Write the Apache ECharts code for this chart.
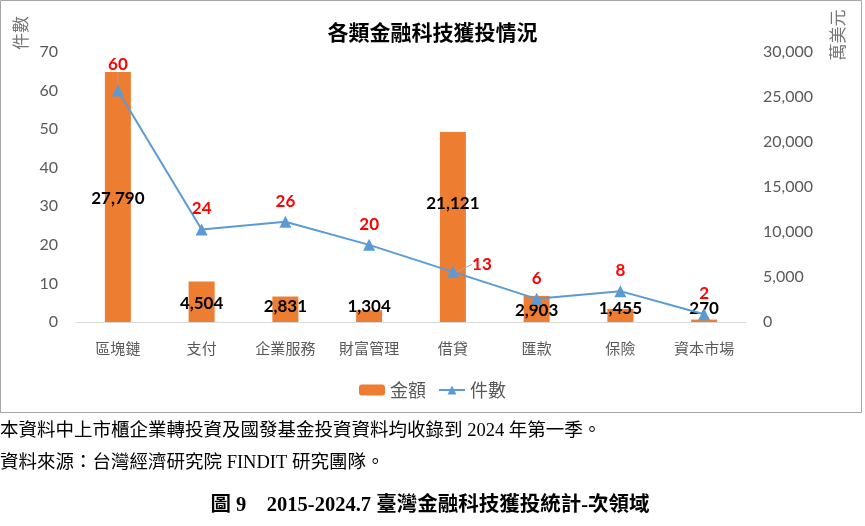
<!DOCTYPE html>
<html>
<head>
<meta charset="utf-8">
<script src="https://cdn.jsdelivr.net/npm/echarts@6/dist/echarts.min.js"></script>
<style>
html,body{margin:0;padding:0;background:#fff;}
#c{width:865px;height:526px;}
</style>
</head>
<body>
<div id="c"></div>
<script>
const categories = ['區塊鏈','支付','企業服務','財富管理','借貸','匯款','保險','資本市場'];
const amounts = [27790, 4504, 2831, 1304, 21121, 2903, 1455, 270];
const counts = [60, 24, 26, 20, 13, 6, 8, 2];
const leftTicks = {min: 0, max: 70, interval: 10};
const rightTicks = {min: 0, max: 30000, interval: 5000};

// label placement (styling only)
const barLabelDist = [115, 10, 7, 7, 110, 3, 5, 5];

const CJK = '"Noto Sans CJK TC", "Noto Sans CJK SC", sans-serif';
const NUM = 'Lato, "Open Sans", "Noto Sans CJK TC", sans-serif';
const SERIF = '"Liberation Serif", "Noto Sans CJK TC", serif';

const chart = echarts.init(document.getElementById('c'), null, {renderer: 'canvas'});

chart.setOption({
  backgroundColor: '#fff',
  animation: false,
  title: {
    text: '各類金融科技獲投情況',
    left: 'center', top: 17,
    textStyle: {fontFamily: CJK, fontSize: 21, fontWeight: 'bold', color: '#000'}
  },
  legend: {
    top: 376, left: 'center',
    itemWidth: 26, itemHeight: 11, itemGap: 12,
    textStyle: {fontFamily: CJK, fontSize: 18, color: '#595959'},
    data: ['金額', '件數']
  },
  grid: {left: 76, right: 119, top: 52, bottom: 204, containLabel: false},
  xAxis: {
    type: 'category', data: categories,
    axisLine: {lineStyle: {color: '#d9d9d9', width: 1}},
    axisTick: {show: false},
    axisLabel: {fontFamily: CJK, fontSize: 15, color: '#595959', margin: 19}
  },
  yAxis: [
    {type: 'value', position: 'left', min: leftTicks.min, max: leftTicks.max, interval: leftTicks.interval,
     splitLine: {show: false}, axisLine: {show: false}, axisTick: {show: false},
     axisLabel: {fontFamily: NUM, fontSize: 16, color: '#595959', margin: 18}},
    {type: 'value', position: 'right', min: rightTicks.min, max: rightTicks.max, interval: rightTicks.interval,
     splitLine: {show: false}, axisLine: {show: false}, axisTick: {show: false},
     axisLabel: {fontFamily: NUM, fontSize: 16, color: '#595959', margin: 17,
       formatter: v => v.toLocaleString('en-US')}}
  ],
  series: [
    {
      name: '金額', type: 'bar', yAxisIndex: 1, barWidth: 26,
      itemStyle: {color: '#ED7D31'},
      data: amounts.map((v, i) => ({
        value: v,
        label: {show: true, position: 'insideBottom', distance: barLabelDist[i]}
      })),
      label: {show: true, color: '#000', fontFamily: NUM, fontSize: 17, fontWeight: 'bold',
        formatter: p => p.value.toLocaleString('en-US')},
      z: 2
    },
    {
      name: '件數', type: 'line', yAxisIndex: 0,
      symbol: 'triangle', symbolSize: 12,
      lineStyle: {color: '#5B9BD5', width: 2},
      itemStyle: {color: '#5B9BD5'},
      data: counts.map((v, i) => ({
        value: v,
        labelLine: {show: i === 0 || i === 4, lineStyle: {color: '#a6a6a6', width: 1}}
      })),
      label: {show: true, position: 'top', distance: 6, color: '#FF0000',
        fontFamily: NUM, fontSize: 17, fontWeight: 'bold'},
      labelLine: {show: false},
      labelLayout: function (p) {
        if (p.dataIndex === 0) return {dy: -6};
        if (p.dataIndex === 4) return {dx: 29, dy: 13};
        return {};
      },
      z: 3
    }
  ],
  graphic: [
    {type: 'rect', shape: {x: 0.5, y: 0.5, width: 861, height: 412},
     style: {fill: 'none', stroke: '#a6a6a6', lineWidth: 1}, z: -1},
    {type: 'text', x: 21, y: 33, rotation: Math.PI / 2,
     style: {text: '件數', fontFamily: CJK, fontSize: 17, fill: '#767676', align: 'center', verticalAlign: 'middle'}},
    {type: 'text', x: 838, y: 35, rotation: Math.PI / 2,
     style: {text: '萬美元', fontFamily: CJK, fontSize: 17, fill: '#767676', align: 'center', verticalAlign: 'middle'}},
    {type: 'text', x: 0, y: 431,
     style: {text: '本資料中上市櫃企業轉投資及國發基金投資資料均收錄到 2024 年第一季。',
       fontFamily: SERIF, fontSize: 18.5, fill: '#000', verticalAlign: 'middle'}},
    {type: 'text', x: 0, y: 463,
     style: {text: '資料來源：台灣經濟研究院 FINDIT 研究團隊。',
       fontFamily: SERIF, fontSize: 18.5, fill: '#000', verticalAlign: 'middle'}},
    {type: 'text', x: 430, y: 506,
     style: {text: '圖 9　2015-2024.7 臺灣金融科技獲投統計-次領域',
       fontFamily: SERIF, fontSize: 20.5, fontWeight: 'bold', fill: '#000',
       align: 'center', verticalAlign: 'middle'}}
  ]
});
</script>
</body>
</html>
